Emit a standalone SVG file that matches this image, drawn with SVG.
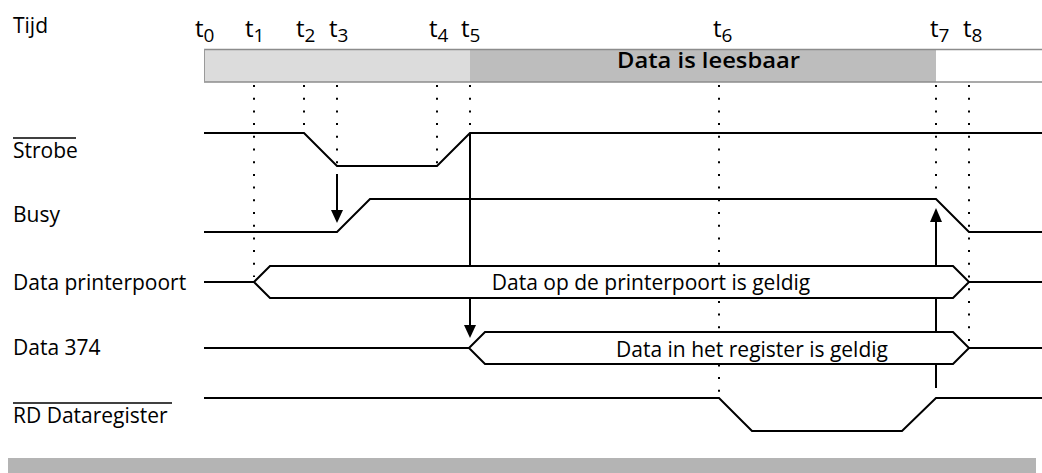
<svg xmlns="http://www.w3.org/2000/svg" width="1042" height="473" viewBox="0 0 1042 473">
<style>
.lbl{font-family:"Open Sans","Liberation Sans",sans-serif;font-size:21px;fill:#000}
.tk{font-family:"Open Sans","Liberation Sans",sans-serif;font-size:24px;fill:#000}
.sub{font-size:19px}
.sig{fill:none;stroke:#000;stroke-width:2;stroke-linejoin:miter}
.bus{fill:#fff;stroke:#000;stroke-width:2}
.dot{stroke:#000;stroke-width:2;stroke-dasharray:2 10.7;fill:none}
.arr{stroke:#000;stroke-width:2;fill:none}
.head{fill:#000}
</style>
<rect width="1042" height="473" fill="#fff"/>
<g id="band">
<rect x="204" y="49" width="266" height="33" fill="#dcdcdc"/>
<rect x="470" y="49" width="466" height="33" fill="#bdbdbd"/>
<line x1="204" y1="49.5" x2="1042" y2="49.5" stroke="#8c8c8c" stroke-width="1.5"/>
<line x1="204" y1="82" x2="1042" y2="82" stroke="#8c8c8c" stroke-width="1.5"/>
<line x1="204.5" y1="49" x2="204.5" y2="82" stroke="#9a9a9a" stroke-width="1"/>
<text class="lbl" x="617" y="68" font-weight="600" font-size="20" textLength="183" lengthAdjust="spacingAndGlyphs">Data is leesbaar</text>
</g>
<g id="bottom-band"><rect x="8" y="458" width="1028" height="15" fill="#b4b4b4"/></g>
<g id="labels">
<text class="lbl" x="13" y="33">Tijd</text>
<text class="lbl" x="13" y="158">Strobe</text>
<line x1="13" y1="138" x2="76" y2="138" stroke="#000" stroke-width="1.5"/>
<text class="lbl" x="13" y="222">Busy</text>
<text class="lbl" x="13" y="290">Data printerpoort</text>
<text class="lbl" x="13" y="355">Data 374</text>
<text class="lbl" x="13" y="423">RD Dataregister</text>
<line x1="13" y1="403" x2="172" y2="403" stroke="#000" stroke-width="1.5"/>
</g>
<g id="ticks">
<text class="tk" x="195" y="37">t<tspan class="sub" dy="5">0</tspan></text>
<text class="tk" x="245" y="37">t<tspan class="sub" dy="5">1</tspan></text>
<text class="tk" x="296" y="37">t<tspan class="sub" dy="5">2</tspan></text>
<text class="tk" x="329" y="37">t<tspan class="sub" dy="5">3</tspan></text>
<text class="tk" x="429" y="37">t<tspan class="sub" dy="5">4</tspan></text>
<text class="tk" x="461" y="37">t<tspan class="sub" dy="5">5</tspan></text>
<text class="tk" x="713" y="37">t<tspan class="sub" dy="5">6</tspan></text>
<text class="tk" x="930" y="37">t<tspan class="sub" dy="5">7</tspan></text>
<text class="tk" x="963" y="37">t<tspan class="sub" dy="5">8</tspan></text>
</g>
<g id="connectors">
<line class="dot" x1="254" y1="85" x2="254" y2="277"/>
<line class="dot" x1="304" y1="85" x2="304" y2="133"/>
<line class="dot" x1="337" y1="85" x2="337" y2="166"/>
<line class="dot" x1="437" y1="85" x2="437" y2="166"/>
<line class="dot" x1="470" y1="85" x2="470" y2="133"/>
<line class="dot" x1="719" y1="85" x2="719" y2="398"/>
<line class="dot" x1="936" y1="85" x2="936" y2="199"/>
<line class="dot" x1="969" y1="85" x2="969" y2="348"/>
<line class="arr" x1="337" y1="174" x2="337" y2="212"/>
<polygon class="head" points="331,210 343,210 337,223"/>
<line class="arr" x1="470" y1="133" x2="470" y2="327"/>
<polygon class="head" points="464,325 476,325 470,338"/>
<line class="arr" x1="936" y1="388" x2="936" y2="220"/>
<polygon class="head" points="930,222 942,222 936,208"/>
</g>
<g id="strobe"><polyline class="sig" points="204,133 304,133 337,166 437,166 470,133 1042,133"/></g>
<g id="busy"><polyline class="sig" points="204,232 337,232 370,199 936,199 969,232 1042,232"/></g>
<g id="data-printerpoort">
<line class="sig" x1="204" y1="282" x2="254" y2="282"/>
<polygon class="bus" points="254,282 270,266 953,266 969,282 953,298 270,298"/>
<line class="sig" x1="969" y1="282" x2="1042" y2="282"/>
<text class="lbl" x="651" y="290" text-anchor="middle">Data op de printerpoort is geldig</text>
</g>
<g id="data-374">
<line class="sig" x1="204" y1="348" x2="469" y2="348"/>
<polygon class="bus" points="469,348 485,332 953,332 969,348 953,364 485,364"/>
<line class="sig" x1="969" y1="348" x2="1042" y2="348"/>
<text class="lbl" x="752" y="357" text-anchor="middle">Data in het register is geldig</text>
</g>
<g id="rd-dataregister"><polyline class="sig" points="204,398 719,398 752,431 902,431 936,398 1042,398"/></g>
</svg>
